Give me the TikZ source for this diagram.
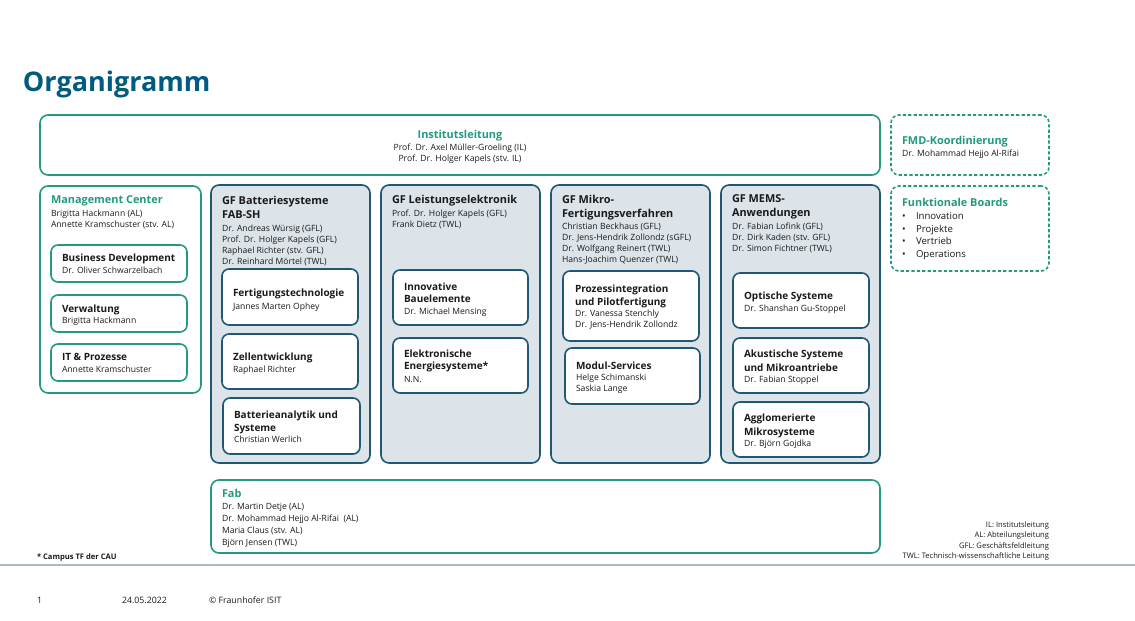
\documentclass[tikz,border=0pt]{standalone}
\usepackage{fontspec}
\setmainfont{Open Sans}
\definecolor{fhgreen}{HTML}{23997E}
\definecolor{fhblue}{HTML}{005B7F}
\definecolor{gfline}{HTML}{1F5875}
\definecolor{gffill}{HTML}{DCE4EA}
\definecolor{txt}{HTML}{1A1A1A}
\definecolor{sep}{HTML}{A9BBC5}
\newcommand\bx[6]{\node[#1,anchor=north west,minimum width=#5pt,minimum height=#6pt] (#2) at (#3,#4) {};}
\newcommand\lns[2]{\begin{tabular}[t]{@{}#1@{}}#2\end{tabular}}
\begin{document}
\begin{tikzpicture}[x=1pt,y=-1pt,
  every node/.style={inner sep=0pt, outer sep=0pt},
  gbox/.style={draw=fhgreen, line width=1.6pt, rounded corners=8pt, fill=white},
  dbox/.style={draw=fhgreen, line width=1.6pt, rounded corners=8pt, dash pattern=on 3.2pt off 2.2pt},
  gfbox/.style={draw=gfline, line width=1.6pt, rounded corners=8pt, fill=gffill},
  ibox/.style={draw=gfline, line width=1.6pt, rounded corners=7pt, fill=white},
  mbox/.style={draw=fhgreen, line width=1.6pt, rounded corners=7pt, fill=white},
  ghd/.style={anchor=base west, text=fhgreen, font=\fontsize{10.9}{14}\selectfont\bfseries},
  bhd/.style={anchor=base west, text=txt, font=\fontsize{10.9}{14}\selectfont\bfseries},
  ihd/.style={anchor=base west, text=txt, font=\fontsize{10}{13}\selectfont\bfseries},
  nm/.style={anchor=base west, text=txt, font=\fontsize{8.6}{11}\selectfont},
  tiny/.style={text=txt, font=\fontsize{7.6}{10.5}\selectfont},
  foot/.style={anchor=base west, text=txt, font=\fontsize{8.8}{10}\selectfont}]
\useasboundingbox (0,0) rectangle (1135,621);
\fill[white] (0,0) rectangle (1135,621);

% title
\node[anchor=base west, text=fhblue, font=\fontsize{27}{30}\selectfont\bfseries] (title) at (23,91) {Organigramm};

% Institutsleitung
\bx{gbox}{il}{40}{115}{840}{60}
\node[ghd, anchor=base] (ilt) at (460,138) {Institutsleitung};
\node[nm, anchor=base] (iln) at (460,150) {\lns{c}{Prof. Dr. Axel Müller-Groeling (IL)\\Prof. Dr. Holger Kapels (stv. IL)}};

% FMD
\bx{dbox}{fmd}{891}{115}{158}{60}
\node[ghd] (fmdt) at (902,144) {FMD-Koordinierung};
\node[nm] (fmdn) at (902,156) {Dr. Mohammad Hejjo Al-Rifai};

% Boards
\bx{dbox}{fb}{891}{186}{158}{85}
\node[ghd] (fbt) at (902,206) {Funktionale Boards};
\node[nm, font=\fontsize{9.6}{12.7}\selectfont] (fbn) at (902,219.5) {\lns{p{14pt}@{}l}{•&Innovation\\•&Projekte\\•&Vertrieb\\•&Operations}};

% Management Center
\bx{gbox}{mc}{40}{186}{161}{207}
\node[ghd] (mct) at (51,203) {Management Center};
\node[nm] (mcn) at (51,216) {\lns{l}{Brigitta Hackmann (AL)\\Annette Kramschuster (stv. AL)}};
\bx{mbox}{bd}{51}{245}{136}{37}
\node[ihd] (bdt) at (62,261) {Business Development};
\node[nm] (bdn) at (62,273) {Dr. Oliver Schwarzelbach};
\bx{mbox}{vw}{51}{295}{136}{37}
\node[ihd] (vwt) at (62,312) {Verwaltung};
\node[nm] (vwn) at (62,323) {Brigitta Hackmann};
\bx{mbox}{itp}{51}{344}{136}{37}
\node[ihd] (itt) at (62,360) {IT \& Prozesse};
\node[nm] (itn) at (62,372) {Annette Kramschuster};

% GF Batteriesysteme
\bx{gfbox}{gfa}{211}{185}{159}{278}
\node[bhd] (gfat) at (222,204) {\lns{l}{GF Batteriesysteme\\FAB-SH}};
\node[nm] (gfan) at (222,231) {\lns{l}{Dr. Andreas Würsig (GFL)\\Prof. Dr. Holger Kapels (GFL)\\Raphael Richter (stv. GFL)\\Dr. Reinhard Mörtel (TWL)}};
\bx{ibox}{fe}{222}{269}{136}{56}
\node[ihd] (fet) at (233,296) {Fertigungstechnologie};
\node[nm] (fen) at (233,309) {Jannes Marten Ophey};
\bx{ibox}{ze}{222}{334}{136}{55}
\node[ihd] (zet) at (233,360) {Zellentwicklung};
\node[nm] (zen) at (233,372) {Raphael Richter};
\bx{ibox}{ba}{223}{398}{137}{56}
\node[ihd] (bat) at (234,418) {\lns{l}{Batterieanalytik und\\Systeme}};
\node[nm] (ban) at (234,442) {Christian Werlich};

% GF Leistungselektronik
\bx{gfbox}{gfb}{381}{185}{159}{278}
\node[bhd] (gfbt) at (392,203) {GF Leistungselektronik};
\node[nm] (gfbn) at (392,216) {\lns{l}{Prof. Dr. Holger Kapels (GFL)\\Frank Dietz (TWL)}};
\bx{ibox}{inb}{393}{270}{135}{55}
\node[ihd, font=\fontsize{10}{12.5}\selectfont\bfseries] (inbt) at (404,290) {\lns{l}{Innovative\\Bauelemente}};
\node[nm] (inbn) at (404,314) {Dr. Michael Mensing};
\bx{ibox}{ee}{393}{338}{135}{55}
\node[ihd, font=\fontsize{10}{12.5}\selectfont\bfseries] (eet) at (404,357) {\lns{l}{Elektronische\\Energiesysteme*}};
\node[nm] (een) at (404,382) {N.N.};

% GF Mikro-Fertigungsverfahren
\bx{gfbox}{gfc}{551}{185}{159}{278}
\node[bhd] (gfct) at (562,203) {\lns{l}{GF Mikro-\\Fertigungsverfahren}};
\node[nm] (gfcn) at (562,229) {\lns{l}{Christian Beckhaus (GFL)\\Dr. Jens-Hendrik Zollondz (sGFL)\\Dr. Wolfgang Reinert (TWL)\\Hans-Joachim Quenzer (TWL)}};
\bx{ibox}{pi}{563}{271}{136}{70}
\node[ihd] (pit) at (575,292) {\lns{l}{Prozessintegration\\und Pilotfertigung}};
\node[nm] (pin) at (575,316) {\lns{l}{Dr. Vanessa Stenchly\\Dr. Jens-Hendrik Zollondz}};
\bx{ibox}{ms}{565}{348}{135}{56}
\node[ihd] (mst) at (576,369) {Modul-Services};
\node[nm] (msn) at (576,380) {\lns{l}{Helge Schimanski\\Saskia Lange}};

% GF MEMS-Anwendungen
\bx{gfbox}{gfd}{721}{185}{159}{278}
\node[bhd, font=\fontsize{10.9}{14.5}\selectfont\bfseries] (gfdt) at (732,202) {\lns{l}{GF MEMS-\\Anwendungen}};
\node[nm] (gfdn) at (732,229) {\lns{l}{Dr. Fabian Lofink (GFL)\\Dr. Dirk Kaden (stv. GFL)\\Dr. Simon Fichtner (TWL)}};
\bx{ibox}{os}{733}{273}{136}{55}
\node[ihd] (ost) at (744,299) {Optische Systeme};
\node[nm] (osn) at (744,311) {Dr. Shanshan Gu-Stoppel};
\bx{ibox}{ak}{733}{338}{136}{55}
\node[ihd, font=\fontsize{10}{14}\selectfont\bfseries] (akt) at (744,357) {\lns{l}{Akustische Systeme\\und Mikroantriebe}};
\node[nm] (akn) at (744,382) {Dr. Fabian Stoppel};
\bx{ibox}{ag}{733}{402}{136}{55}
\node[ihd, font=\fontsize{10}{14}\selectfont\bfseries] (agt) at (744,421) {\lns{l}{Agglomerierte\\Mikrosysteme}};
\node[nm] (agn) at (744,446) {Dr. Björn Gojdka};

% Fab
\bx{gbox}{fab}{211}{480}{669}{73}
\node[ghd] (fabt) at (222,497) {Fab};
\node[nm, font=\fontsize{8.6}{12}\selectfont] (fabn) at (222,509) {\lns{l}{Dr. Martin Detje (AL)\\Dr. Mohammad Hejjo Al-Rifai~ (AL)\\Maria Claus (stv. AL)\\Björn Jensen (TWL)}};

% notes
\node[tiny, anchor=base west, font=\fontsize{7.6}{10}\selectfont\bfseries] (campus) at (37,559) {* Campus TF der CAU};
\node[tiny, anchor=base east] (legend) at (1049,527) {\lns{r}{IL: Institutsleitung\\AL: Abteilungsleitung\\GFL: Geschäftsfeldleitung\\TWL: Technisch-wissenschaftliche Leitung}};

% separator and footer
\coordinate (sepl) at (0,564.5);
\coordinate (sepr) at (1135,564.5);
\draw[sep, line width=2pt] (sepl) -- (sepr);
\node[foot] (pg) at (37,603) {1};
\node[foot] (date) at (122,603) {24.05.2022};
\node[foot] (copy) at (209,603) {© Fraunhofer ISIT};
\end{tikzpicture}
\end{document}
